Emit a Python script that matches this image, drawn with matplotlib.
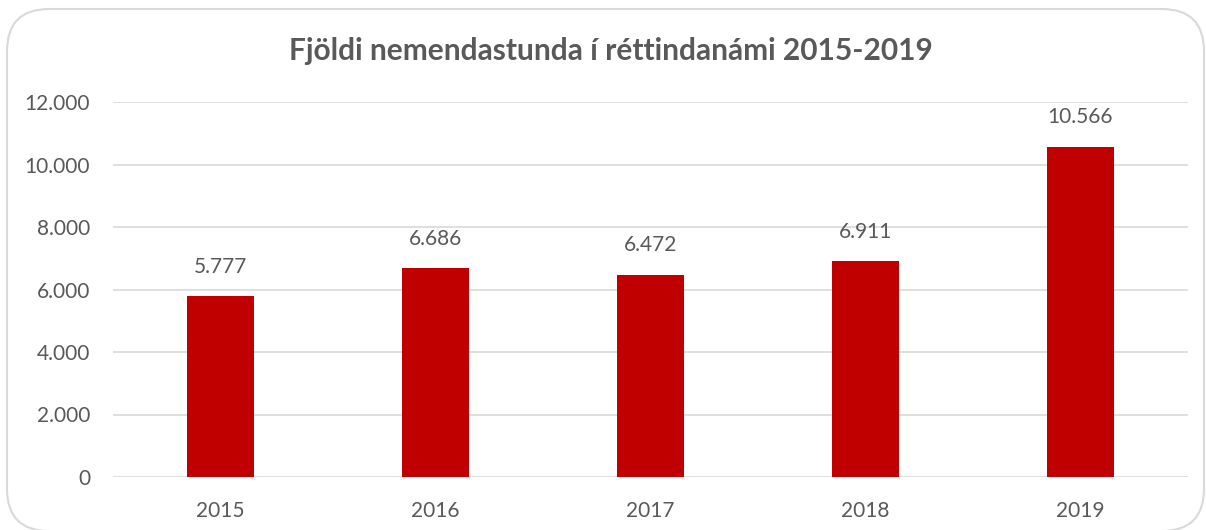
import matplotlib
matplotlib.use("Agg")
import matplotlib.pyplot as plt
from matplotlib.patches import FancyBboxPatch
from matplotlib.ticker import FuncFormatter

years = ["2015", "2016", "2017", "2018", "2019"]
values = [5777, 6686, 6472, 6911, 10566]
title = "Fjöldi nemendastunda í réttindanámi 2015-2019"

plt.rcParams['font.family'] = ['Lato', 'DejaVu Sans']
txt = "#595959"

W, H = 1206, 530
fig = plt.figure(figsize=(W/100, H/100), dpi=100)
fig.patch.set_facecolor("white")

# rounded chart border (bottom edge falls at the image edge)
x0, y0_top, x1, y1_bot = 7, 9, 1204, 531
border = FancyBboxPatch((x0/W, 1 - y1_bot/H), (x1 - x0)/W, (y1_bot - y0_top)/H,
                        boxstyle="round,pad=0,rounding_size=0.035",
                        transform=fig.transFigure, facecolor="none",
                        edgecolor="#D9D9D9", linewidth=1.5,
                        mutation_aspect=W/H, zorder=-1)
fig.patches.append(border)

ax = fig.add_axes([113/W, 1 - 477/H, (1188-113)/W, (477-102)/H])
ax.set_facecolor("none")
x = range(len(years))
ax.bar(x, values, width=0.31, color="#C00000", zorder=3)
ax.set_xlim(-0.5, len(years) - 0.5)
ax.set_ylim(0, 12000)
ax.set_yticks(range(0, 12001, 2000))
ax.yaxis.set_major_formatter(FuncFormatter(lambda v, p: f"{int(v):,}".replace(",", ".")))
ax.set_xticks(list(x))
ax.set_xticklabels(years)
ax.grid(axis="y", color="#D9D9D9", linewidth=1.2, zorder=0)
for s in ax.spines.values():
    s.set_visible(False)
ax.tick_params(axis="both", length=0, colors=txt, labelsize=15)
ax.tick_params(axis="y", pad=16.5)
ax.tick_params(axis="x", pad=17)

for xi, v in zip(x, values):
    ax.annotate(f"{v:,}".replace(",", "."), (xi, v), xytext=(0, 14),
                textcoords="offset points", ha="center", va="bottom",
                fontsize=15, color=txt)

fig.text(611/W, 1 - 51/H, title, ha="center", va="center",
         fontsize=21.5, fontweight="bold", color=txt)

fig.savefig("out.png", dpi=100)
